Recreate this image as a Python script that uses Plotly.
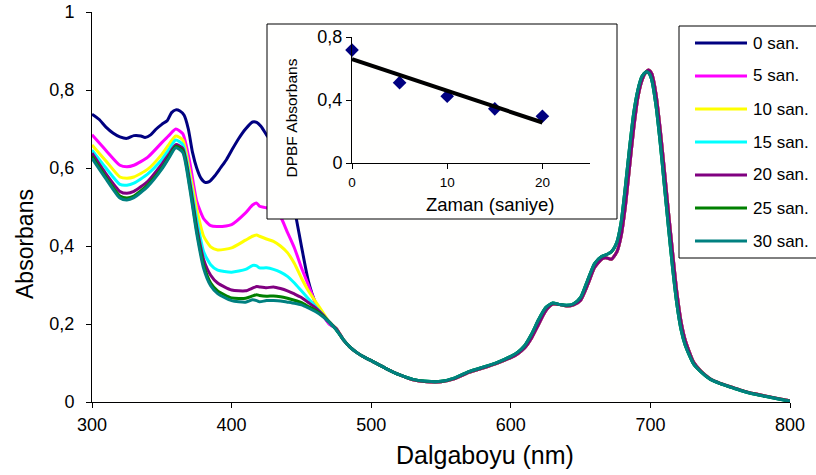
import numpy as np
import plotly.graph_objects as go

# ---------------- data ----------------
series_names = ["0 san.", "5 san.", "10 san.", "15 san.", "20 san.", "25 san.", "30 san."]
series_colors = ["#000080", "#FF00FF", "#FFFF00", "#00FFFF", "#800080", "#008000", "#008080"]

wl_navy = [300, 305, 310, 315, 320, 325, 330, 335, 338, 342, 346, 350, 354, 357, 360, 363, 366,
           369, 372, 375, 378, 381, 384, 388, 392, 396, 400, 405, 410, 415, 418, 421, 425, 430,
           435, 440, 445, 450, 455, 460, 465, 470]
abs_0 = [0.738, 0.725, 0.705, 0.690, 0.680, 0.676, 0.683, 0.682, 0.678, 0.685, 0.700, 0.712, 0.722,
         0.742, 0.749, 0.746, 0.735, 0.700, 0.640, 0.600, 0.574, 0.563, 0.565, 0.580, 0.600, 0.620,
         0.645, 0.675, 0.700, 0.718, 0.717, 0.707, 0.685, 0.660, 0.625, 0.570, 0.495, 0.400, 0.310,
         0.255, 0.225, 0.200]

wl_short = [300, 310, 320, 325, 330, 340, 350, 355, 360, 365, 370, 375, 380, 385, 390, 400, 410,
            415, 418, 420, 425, 430, 435, 440, 445, 450, 455, 460, 465, 470]
abs_5 = [0.685, 0.645, 0.607, 0.603, 0.607, 0.628, 0.665, 0.683, 0.700, 0.688, 0.615, 0.515, 0.470,
         0.452, 0.450, 0.455, 0.485, 0.505, 0.510, 0.502, 0.498, 0.490, 0.475, 0.435, 0.395, 0.345,
         0.300, 0.255, 0.225, 0.200]
abs_10 = [0.659, 0.618, 0.577, 0.574, 0.577, 0.597, 0.635, 0.660, 0.682, 0.672, 0.590, 0.495, 0.425,
          0.398, 0.390, 0.395, 0.415, 0.425, 0.428, 0.425, 0.418, 0.412, 0.400, 0.383, 0.355, 0.318,
          0.285, 0.258, 0.232, 0.205]
abs_15 = [0.646, 0.600, 0.558, 0.556, 0.561, 0.585, 0.622, 0.647, 0.672, 0.660, 0.575, 0.470, 0.385,
          0.352, 0.338, 0.333, 0.340, 0.350, 0.349, 0.344, 0.344, 0.340, 0.333, 0.322, 0.305, 0.285,
          0.265, 0.245, 0.225, 0.205]
abs_20 = [0.638, 0.585, 0.540, 0.535, 0.540, 0.566, 0.610, 0.635, 0.660, 0.650, 0.565, 0.450, 0.365,
          0.325, 0.305, 0.287, 0.285, 0.292, 0.296, 0.295, 0.293, 0.295, 0.291, 0.285, 0.277, 0.268,
          0.255, 0.242, 0.225, 0.205]
abs_25 = [0.630, 0.576, 0.528, 0.523, 0.528, 0.557, 0.600, 0.628, 0.655, 0.645, 0.555, 0.440, 0.350,
          0.305, 0.285, 0.267, 0.266, 0.272, 0.275, 0.273, 0.271, 0.272, 0.270, 0.266, 0.261, 0.255,
          0.245, 0.235, 0.222, 0.205]
abs_30 = [0.625, 0.572, 0.523, 0.518, 0.524, 0.553, 0.597, 0.625, 0.652, 0.640, 0.548, 0.432, 0.342,
          0.298, 0.278, 0.260, 0.256, 0.262, 0.260, 0.257, 0.260, 0.260, 0.259, 0.256, 0.253, 0.249,
          0.241, 0.232, 0.220, 0.205]

wl_tail = [475, 480, 485, 490, 495, 500, 510, 520, 530, 540, 550, 560, 570, 580, 590, 600, 605, 610,
           615, 620, 625, 630, 635, 640, 645, 650, 655, 660, 665, 668, 672, 676, 679, 682, 685, 688,
           691, 694, 697, 699, 701, 704, 707, 710, 713, 716, 719, 722, 725, 731, 736, 743, 750, 760,
           767, 775, 783, 790, 800]
tail_early = [0.188, 0.160, 0.140, 0.126, 0.115, 0.106, 0.087, 0.070, 0.057, 0.052, 0.052, 0.060,
              0.076, 0.087, 0.099, 0.114, 0.124, 0.139, 0.165, 0.200, 0.234, 0.251, 0.250, 0.246,
              0.249, 0.261, 0.300, 0.345, 0.366, 0.370, 0.366, 0.385, 0.425, 0.500, 0.600, 0.700,
              0.780, 0.825, 0.847, 0.851, 0.842, 0.790, 0.700, 0.595, 0.485, 0.380, 0.280, 0.205,
              0.158, 0.102, 0.080, 0.059, 0.048, 0.036, 0.028, 0.021, 0.015, 0.010, 0.003]
tail_late = [0.185, 0.160, 0.140, 0.126, 0.115, 0.106, 0.087, 0.070, 0.058, 0.053, 0.053, 0.062,
             0.078, 0.089, 0.101, 0.117, 0.128, 0.145, 0.175, 0.212, 0.242, 0.254, 0.250, 0.248,
             0.252, 0.268, 0.312, 0.355, 0.373, 0.377, 0.385, 0.410, 0.460, 0.550, 0.650, 0.740,
             0.800, 0.835, 0.847, 0.843, 0.825, 0.760, 0.665, 0.555, 0.445, 0.340, 0.250, 0.185,
             0.145, 0.097, 0.078, 0.058, 0.047, 0.035, 0.027, 0.020, 0.014, 0.009, 0.002]

x_ticks = [300, 400, 500, 600, 700, 800]
y_ticks = [0, 0.2, 0.4, 0.6, 0.8, 1.0]
y_ticktext = ["0", "0,2", "0,4", "0,6", "0,8", "1"]

# inset data
zaman = [0, 5, 10, 15, 20]
dpbf = [0.717, 0.510, 0.424, 0.344, 0.297]
inset_x_ticks = [0, 10, 20]
inset_y_ticks = [0, 0.4, 0.8]
inset_y_ticktext = ["0", "0,4", "0,8"]

# ---------------- layout helpers ----------------
FONT = "Liberation Sans, Arial, sans-serif"
W, H = 816, 475
L, R, T, B = 92, 26, 12, 73
PW, PH = W - L - R, H - T - B


def fx(px):
    return (px - L) / PW


def fy(py):
    return (H - B - py) / PH


short_sets = [(wl_navy, abs_0, tail_early), (wl_short, abs_5, tail_early),
              (wl_short, abs_10, tail_early), (wl_short, abs_15, tail_late),
              (wl_short, abs_20, tail_early), (wl_short, abs_25, tail_late),
              (wl_short, abs_30, tail_late)]

fig = go.Figure()
for name, color, (wl, vals, tail) in zip(series_names, series_colors, short_sets):
    fig.add_trace(go.Scatter(
        x=list(wl) + wl_tail, y=list(vals) + tail, mode="lines", name=name,
        line=dict(color=color, width=3, shape="spline", smoothing=0.6),
        showlegend=False, hoverinfo="skip", xaxis="x", yaxis="y"))

# blank subplot acting as the inset's white panel
fig.add_trace(go.Scatter(x=[], y=[], xaxis="x2", yaxis="y2", showlegend=False, hoverinfo="skip"))

# inset
fig.add_trace(go.Scatter(x=zaman, y=dpbf, mode="markers", xaxis="x3", yaxis="y3",
                         marker=dict(symbol="diamond", size=10.5, color="#000080"),
                         cliponaxis=False, showlegend=False, hoverinfo="skip"))
slope, intercept = np.polyfit(zaman, dpbf, 1)
trend_x = [zaman[0], zaman[-1]]
trend_y = [slope * v + intercept for v in trend_x]
fig.add_trace(go.Scatter(x=trend_x, y=trend_y, mode="lines", xaxis="x3", yaxis="y3",
                         line=dict(color="black", width=4), cliponaxis=False,
                         showlegend=False, hoverinfo="skip"))

axis_common = dict(showgrid=False, zeroline=False, showline=True, linecolor="black", linewidth=1,
                   ticks="outside", ticklen=5, tickcolor="black", tickwidth=1, automargin=False)

shapes = []
annotations = []

# inset border
shapes.append(dict(type="rect", xref="paper", yref="paper", x0=fx(267), x1=fx(617),
                   y0=fy(219), y1=fy(24), line=dict(color="black", width=1),
                   fillcolor="rgba(0,0,0,0)", layer="above"))

# legend box
shapes.append(dict(type="rect", xref="paper", yref="paper", x0=fx(679), x1=fx(817),
                   y0=fy(258), y1=fy(26), line=dict(color="black", width=1),
                   fillcolor="white", layer="above"))
for i, (name, color) in enumerate(zip(series_names, series_colors)):
    yy = fy(43 + 33 * i)
    shapes.append(dict(type="line", xref="paper", yref="paper", x0=fx(695), x1=fx(747),
                       y0=yy, y1=yy, line=dict(color=color, width=3), layer="above"))
    annotations.append(dict(text=name, xref="paper", yref="paper", x=fx(751), y=yy,
                            xanchor="left", yanchor="middle", showarrow=False,
                            font=dict(family=FONT, size=17, color="black")))

# axis titles
annotations.append(dict(text="Dalgaboyu (nm)", xref="paper", yref="paper", x=fx(485), y=fy(455),
                        xanchor="center", yanchor="middle", showarrow=False,
                        font=dict(family=FONT, size=25, color="black")))
annotations.append(dict(text="Absorbans", xref="paper", yref="paper", x=fx(25), y=fy(244),
                        xanchor="center", yanchor="middle", showarrow=False, textangle=-90,
                        font=dict(family=FONT, size=23, color="black")))
annotations.append(dict(text="Zaman (saniye)", xref="paper", yref="paper", x=fx(490), y=fy(204),
                        xanchor="center", yanchor="middle", showarrow=False,
                        font=dict(family=FONT, size=18.5, color="black")))
annotations.append(dict(text="DPBF Absorbans", xref="paper", yref="paper", x=fx(290.5), y=fy(118),
                        xanchor="center", yanchor="middle", showarrow=False, textangle=-90,
                        font=dict(family=FONT, size=15.5, color="black")))

fig.update_layout(
    template="none",
    width=W, height=H, margin=dict(l=L, r=R, t=T, b=B, pad=0, autoexpand=False),
    paper_bgcolor="white", plot_bgcolor="#fffffe",
    font=dict(family=FONT, color="black"),
    showlegend=False,
    xaxis=dict(range=[300, 800], tickvals=x_ticks, tickfont=dict(size=18),
               ticklabelstandoff=1, domain=[0, 1], anchor="y", **axis_common),
    yaxis=dict(range=[0, 1], tickvals=y_ticks, ticktext=y_ticktext, tickfont=dict(size=18),
               ticklabelstandoff=8, domain=[0, 1], anchor="x", **axis_common),
    xaxis2=dict(domain=[fx(267), fx(617)], anchor="y2", visible=False, range=[0, 1]),
    yaxis2=dict(domain=[fy(219), fy(24)], anchor="x2", visible=False, range=[0, 1]),
    xaxis3=dict(domain=[fx(352), fx(590)], anchor="y3", range=[0, 25], tickvals=inset_x_ticks,
                tickfont=dict(size=13.5), ticklabelstandoff=2, **axis_common),
    yaxis3=dict(domain=[fy(163), fy(37)], anchor="x3", range=[0, 0.8], tickvals=inset_y_ticks,
                ticktext=inset_y_ticktext, tickfont=dict(size=18), ticklabelstandoff=0,
                **axis_common),
    shapes=shapes,
    annotations=annotations,
)

fig.write_html("out.html")
